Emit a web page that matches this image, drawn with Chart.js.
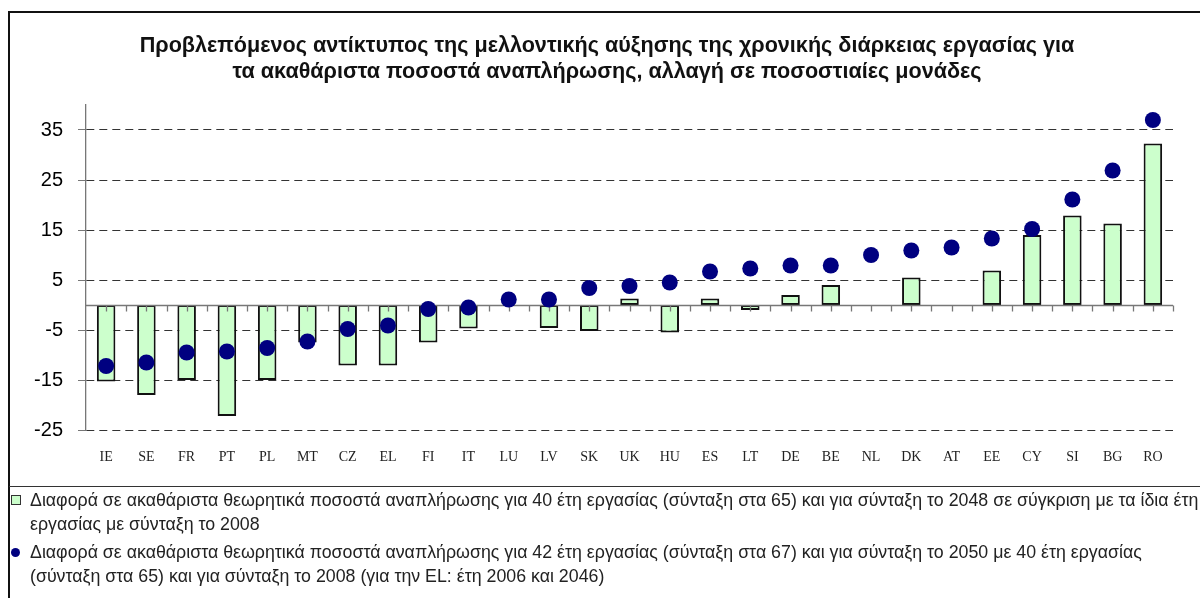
<!DOCTYPE html>
<html>
<head>
<meta charset="utf-8">
<script src="https://cdn.jsdelivr.net/npm/chart.js@4.4.1/dist/chart.umd.min.js"></script>
<style>
  html, body { margin: 0; padding: 0; background: #fff; }
  #wrap { position: relative; width: 1200px; height: 598px; overflow: hidden; font-family: "Liberation Sans", Arial, sans-serif; }
  #chart { position: absolute; left: 0; top: 0; }
  .rule { position: absolute; background: #111; }
  #title { position: absolute; left: 0; width: 1214px; top: 32px; text-align: center; font-weight: bold; font-size: 21.6px; line-height: 26px; color: #111; }
  .leg { position: absolute; left: 30px; font-size: 17.8px; line-height: 24px; color: #222; white-space: nowrap; }
  .mk-sq { position: absolute; left: 11px; width: 8px; height: 8px; background: #ccffcc; border: 1px solid #333; }
  .mk-dot { position: absolute; left: 11px; width: 9px; height: 9px; border-radius: 50%; background: #000080; }
</style>
</head>
<body>
<div id="wrap">
  <canvas id="chart" width="1200" height="598"></canvas>
  <div class="rule" style="left:9px; top:11px; width:1191px; height:2px;"></div>
  <div class="rule" style="left:8px; top:11px; width:2px; height:587px;"></div>
  <div class="rule" style="left:9px; top:486px; width:1191px; height:1px; background:#333;"></div>
  <div id="title">Προβλεπόμενος αντίκτυπος της μελλοντικής αύξησης της χρονικής διάρκειας εργασίας για<br>τα ακαθάριστα ποσοστά αναπλήρωσης, αλλαγή σε ποσοστιαίες μονάδες</div>
  <div class="mk-sq" style="top:495px;"></div>
  <div class="leg" style="top:488px;">Διαφορά σε ακαθάριστα θεωρητικά ποσοστά αναπλήρωσης για 40 έτη εργασίας (σύνταξη στα 65) και για σύνταξη το 2048 σε σύγκριση με τα ίδια έτη<br>εργασίας με σύνταξη το 2008</div>
  <div class="mk-dot" style="top:548px;"></div>
  <div class="leg" style="top:540px;">Διαφορά σε ακαθάριστα θεωρητικά ποσοστά αναπλήρωσης για 42 έτη εργασίας (σύνταξη στα 67) και για σύνταξη το 2050 με 40 έτη εργασίας<br>(σύνταξη στα 65) και για σύνταξη το 2008 (για την EL: έτη 2006 και 2046)</div>
</div>
<script>
// countries, sorted as in the source chart
const countries = ['IE', 'SE', 'FR', 'PT', 'PL', 'MT', 'CZ', 'EL', 'FI', 'IT', 'LU', 'LV', 'SK', 'UK',
  'HU', 'ES', 'LT', 'DE', 'BE', 'NL', 'DK', 'AT', 'EE', 'CY', 'SI', 'BG', 'RO'];

// 40 years of work, pension in 2048 vs 2008 (bars)
const diff40 = [-15.3, -18.0, -15.0, -22.2, -15.0, -7.5, -12.1, -12.1, -7.5, -4.7, 0, -4.6, -5.2, 1.3,
  -5.5, 1.3, -1.0, 2.0, 4.0, 0, 5.5, 0, 6.9, 14.0, 17.9, 16.3, 32.3];

// 42 years of work (retire at 67) in 2050 vs 40 years in 2008 (dots)
const diff42 = [-12.2, -11.5, -9.5, -9.3, -8.6, -7.3, -4.8, -4.1, -0.8, -0.5, 1.1, 1.1, 3.4, 3.8,
  4.5, 6.7, 7.3, 7.9, 7.9, 10.0, 10.9, 11.5, 13.3, 15.2, 21.1, 26.9, 37.0];

const yTicks = [-25, -15, -5, 5, 15, 25, 35];

// zero line with small tick marks, drawn right after the bars
const zeroLine = {
  id: 'zeroLine',
  afterDatasetDraw(chart, args) {
    if (args.index !== 0) return;
    const { ctx, chartArea, scales } = chart;
    const y0 = Math.round(scales.y.getPixelForValue(0)) + 0.5;
    const x = scales.x;
    const step = x.getPixelForValue(1) - x.getPixelForValue(0);
    ctx.save();
    ctx.strokeStyle = '#777';
    ctx.lineWidth = 1.3;
    ctx.beginPath();
    ctx.moveTo(chartArea.left, y0);
    ctx.lineTo(chartArea.right, y0);
    for (let i = 0; i < countries.length; i++) {
      const c = x.getPixelForValue(i);
      ctx.moveTo(Math.round(c) + 0.5, y0);
      ctx.lineTo(Math.round(c) + 0.5, y0 + 6);
      const b = c + step / 2;
      ctx.moveTo(Math.round(b) + 0.5, y0);
      ctx.lineTo(Math.round(b) + 0.5, y0 + 6);
    }
    ctx.stroke();
    ctx.restore();
  }
};

new Chart(document.getElementById('chart'), {
  type: 'bar',
  data: {
    labels: countries,
    datasets: [
      {
        type: 'bar',
        label: 'Διαφορά 40 έτη',
        data: diff40,
        backgroundColor: '#ccffcc',
        borderColor: '#111',
        borderWidth: 2,
        borderSkipped: false,
        barPercentage: 0.46,
        categoryPercentage: 1,
        order: 2
      },
      {
        type: 'line',
        label: 'Διαφορά 42 έτη',
        data: diff42,
        showLine: false,
        pointRadius: 8,
        pointHoverRadius: 8,
        pointBackgroundColor: '#000080',
        pointBorderColor: '#000080',
        pointBorderWidth: 0,
        order: 1
      }
    ]
  },
  options: {
    responsive: false,
    animation: false,
    events: [],
    layout: { padding: { left: 9, right: 27, top: 105, bottom: 111 } },
    plugins: {
      legend: { display: false },
      title: { display: false },
      tooltip: { enabled: false }
    },
    scales: {
      x: {
        grid: { display: false, drawTicks: false },
        border: { display: false },
        ticks: {
          padding: 19,
          color: '#222',
          font: { family: '"Liberation Serif", "Times New Roman", serif', size: 14 }
        },
        afterFit(scale) { scale.height = 57; }
      },
      y: {
        min: -25,
        max: 40,
        afterBuildTicks(scale) { scale.ticks = yTicks.map(v => ({ value: v })); },
        grid: {
          color: '#333',
          lineWidth: 1,
          drawTicks: true,
          tickLength: 8,
          tickColor: '#777',
          tickBorderDash: []
        },
        border: { display: true, color: '#777', width: 1.3, dash: [8, 5] },
        ticks: {
          padding: 15,
          color: '#000',
          font: { family: '"Liberation Sans", Arial, sans-serif', size: 20 }
        },
        afterFit(scale) { scale.width = 77; }
      }
    }
  },
  plugins: [zeroLine]
});
</script>
</body>
</html>
